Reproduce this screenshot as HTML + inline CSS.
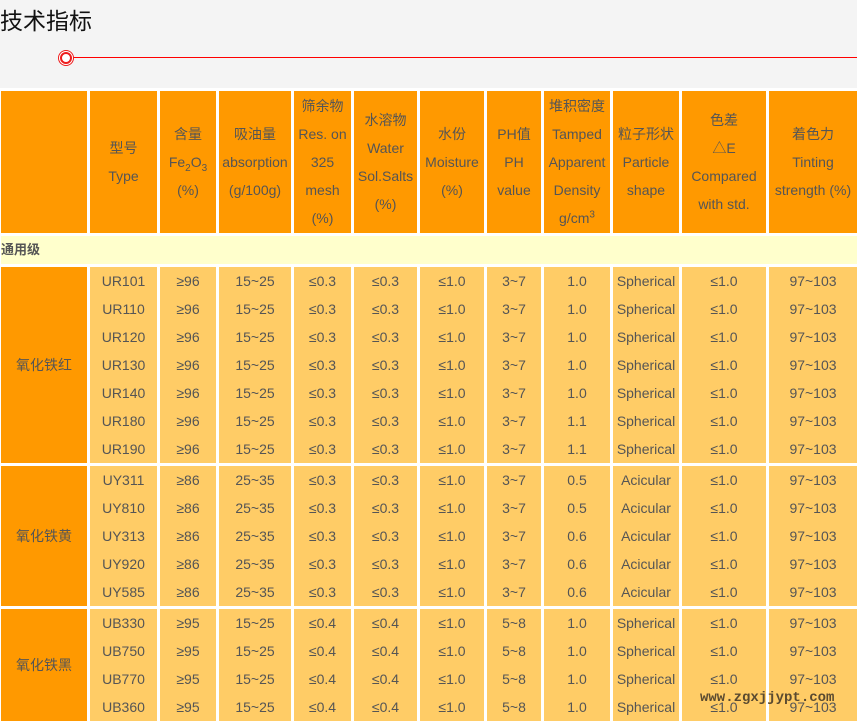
<!DOCTYPE html>
<html><head><meta charset="utf-8"><style>
body{margin:0;width:857px;height:720px;overflow:hidden;background:#f4f4f4;position:relative;font-family:"Liberation Sans","Noto Sans CJK SC",sans-serif;}
.t{position:absolute;left:0;top:2px;font-size:23px;color:#111;}
.ln{position:absolute;left:70px;top:57px;width:787px;height:1px;background:#ff0000;}
.c{position:absolute;left:60px;top:52px;width:8px;height:8px;border:2px solid #ee1c1c;border-radius:50%;background:#fff;box-shadow:0 0 0 1px #fff,0 0 0 2px #ee1c1c;}
table{position:absolute;left:-2px;top:88px;width:862px;border-collapse:separate;border-spacing:3px;background:#fff;table-layout:fixed;}
td{padding:0;text-align:center;vertical-align:middle;color:#555;font-size:14px;line-height:28px;overflow:hidden;white-space:nowrap;}
.h td{background:#ff9900;height:142px;}
.g td{background:#ffffcc;height:27px;text-align:left;font-weight:bold;font-size:13px;}
.d td{background:#ffcc66;}
.d td.k{background:#ff9900;}
sub,sup{font-size:10px;line-height:0;}
.wm{position:absolute;left:700px;top:690px;font-family:"Liberation Mono",monospace;font-weight:bold;font-size:14px;color:#5a4a30;}
</style></head><body>
<div class="t">技术指标</div>
<div class="ln"></div><div class="c"></div>
<table>
<colgroup><col style="width:86px"><col style="width:67px"><col style="width:56px"><col style="width:72px"><col style="width:57px"><col style="width:63px"><col style="width:64px"><col style="width:54px"><col style="width:66px"><col style="width:66px"><col style="width:84px"><col style="width:88px"></colgroup>
<tr class="h"><td></td><td>型号<br>Type</td><td>含量<br>Fe<sub>2</sub>O<sub>3</sub><br>(%)</td><td>吸油量<br>absorption<br>(g/100g)</td><td>筛余物<br>Res. on<br>325<br>mesh<br>(%)</td><td>水溶物<br>Water<br>Sol.Salts<br>(%)</td><td>水份<br>Moisture<br>(%)</td><td>PH值<br>PH<br>value</td><td>堆积密度<br>Tamped<br>Apparent<br>Density<br>g/cm<sup>3</sup></td><td>粒子形状<br>Particle<br>shape</td><td>色差<br>△E<br>Compared<br>with std.</td><td>着色力<br>Tinting<br>strength (%)</td></tr>
<tr class="g"><td colspan="12">通用级</td></tr>
<tr class="d" style="height:195px"><td class="k">氧化铁红</td><td>UR101<br>UR110<br>UR120<br>UR130<br>UR140<br>UR180<br>UR190</td><td>≥96<br>≥96<br>≥96<br>≥96<br>≥96<br>≥96<br>≥96</td><td>15~25<br>15~25<br>15~25<br>15~25<br>15~25<br>15~25<br>15~25</td><td>≤0.3<br>≤0.3<br>≤0.3<br>≤0.3<br>≤0.3<br>≤0.3<br>≤0.3</td><td>≤0.3<br>≤0.3<br>≤0.3<br>≤0.3<br>≤0.3<br>≤0.3<br>≤0.3</td><td>≤1.0<br>≤1.0<br>≤1.0<br>≤1.0<br>≤1.0<br>≤1.0<br>≤1.0</td><td>3~7<br>3~7<br>3~7<br>3~7<br>3~7<br>3~7<br>3~7</td><td>1.0<br>1.0<br>1.0<br>1.0<br>1.0<br>1.1<br>1.1</td><td>Spherical<br>Spherical<br>Spherical<br>Spherical<br>Spherical<br>Spherical<br>Spherical</td><td>≤1.0<br>≤1.0<br>≤1.0<br>≤1.0<br>≤1.0<br>≤1.0<br>≤1.0</td><td>97~103<br>97~103<br>97~103<br>97~103<br>97~103<br>97~103<br>97~103</td></tr>
<tr class="d" style="height:139px"><td class="k">氧化铁黄</td><td>UY311<br>UY810<br>UY313<br>UY920<br>UY585</td><td>≥86<br>≥86<br>≥86<br>≥86<br>≥86</td><td>25~35<br>25~35<br>25~35<br>25~35<br>25~35</td><td>≤0.3<br>≤0.3<br>≤0.3<br>≤0.3<br>≤0.3</td><td>≤0.3<br>≤0.3<br>≤0.3<br>≤0.3<br>≤0.3</td><td>≤1.0<br>≤1.0<br>≤1.0<br>≤1.0<br>≤1.0</td><td>3~7<br>3~7<br>3~7<br>3~7<br>3~7</td><td>0.5<br>0.5<br>0.6<br>0.6<br>0.6</td><td>Acicular<br>Acicular<br>Acicular<br>Acicular<br>Acicular</td><td>≤1.0<br>≤1.0<br>≤1.0<br>≤1.0<br>≤1.0</td><td>97~103<br>97~103<br>97~103<br>97~103<br>97~103</td></tr>
<tr class="d" style="height:112px"><td class="k">氧化铁黑</td><td>UB330<br>UB750<br>UB770<br>UB360</td><td>≥95<br>≥95<br>≥95<br>≥95</td><td>15~25<br>15~25<br>15~25<br>15~25</td><td>≤0.4<br>≤0.4<br>≤0.4<br>≤0.4</td><td>≤0.4<br>≤0.4<br>≤0.4<br>≤0.4</td><td>≤1.0<br>≤1.0<br>≤1.0<br>≤1.0</td><td>5~8<br>5~8<br>5~8<br>5~8</td><td>1.0<br>1.0<br>1.0<br>1.0</td><td>Spherical<br>Spherical<br>Spherical<br>Spherical</td><td>≤1.0<br>≤1.0<br>≤1.0<br>≤1.0</td><td>97~103<br>97~103<br>97~103<br>97~103</td></tr>
</table>
<div class="wm">www.zgxjjypt.com</div>
</body></html>
